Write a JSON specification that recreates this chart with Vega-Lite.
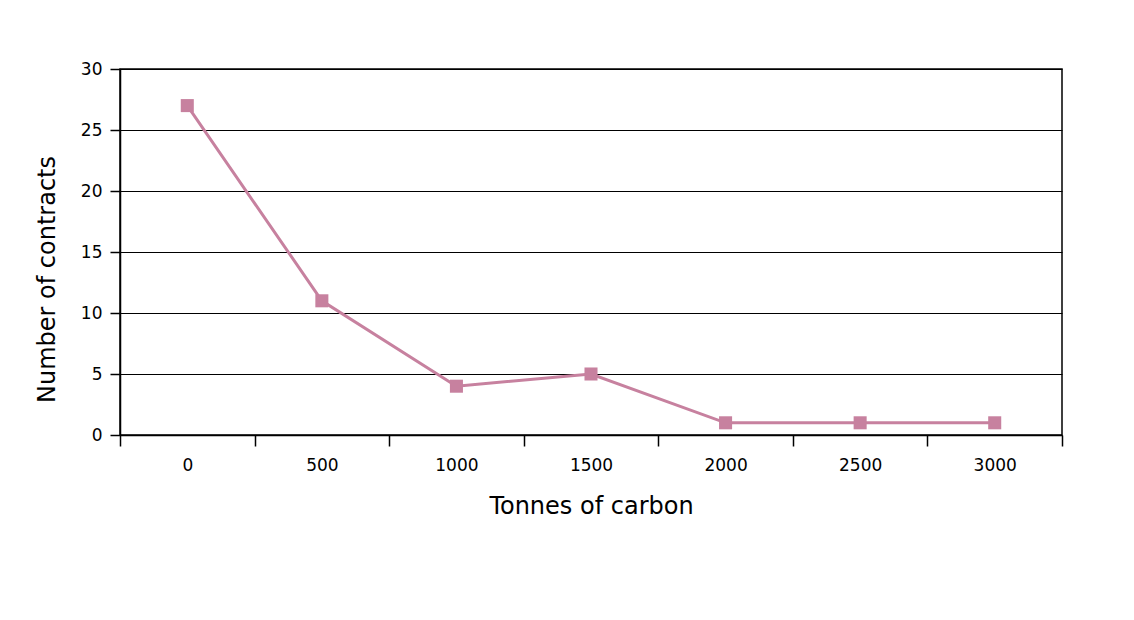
{
  "$schema": "https://vega.github.io/schema/vega-lite/v6.json",
  "autosize": "none",
  "width": 942,
  "height": 366,
  "padding": {"left": 120, "top": 69, "right": 72, "bottom": 185},
  "background": "white",
  "config": {
    "view": {"stroke": "black", "strokeWidth": 1.5},
    "font": "DejaVu Sans",
    "axis": {"labelFont": "DejaVu Sans", "titleFont": "DejaVu Sans", "labelColor": "black", "titleColor": "black", "domainColor": "black", "tickColor": "black", "gridColor": "black"}
  },
  "data": {"values": [
    {"tonnes": 0, "contracts": 27},
    {"tonnes": 500, "contracts": 11},
    {"tonnes": 1000, "contracts": 4},
    {"tonnes": 1500, "contracts": 5},
    {"tonnes": 2000, "contracts": 1},
    {"tonnes": 2500, "contracts": 1},
    {"tonnes": 3000, "contracts": 1}
  ]},
  "resolve": {"axis": {"x": "independent"}},
  "layer": [
    {
      "encoding": {
        "x": {"field": "tonnes", "type": "quantitative", "scale": {"domain": [-250, 3250], "nice": false, "zero": false},
          "axis": {"orient": "bottom", "values": [0, 500, 1000, 1500, 2000, 2500, 3000], "format": "d", "ticks": false, "domain": true, "domainWidth": 1.5, "grid": false, "labelFontSize": 17, "labelPadding": 22, "labelFlush": false, "title": "Tonnes of carbon", "titleFontSize": 24, "titleFontWeight": "normal", "titlePadding": 21}},
        "y": {"field": "contracts", "type": "quantitative", "scale": {"domain": [0, 30], "nice": false},
          "axis": {"values": [0, 5, 10, 15, 20, 25, 30], "tickSize": 10, "tickWidth": 1.5, "domainWidth": 1.5, "grid": true, "gridWidth": 1.2, "gridOpacity": 1, "labelFontSize": 17, "labelPadding": 8, "title": "Number of contracts", "titleFontSize": 24, "titleFontWeight": "normal", "titleX": -73, "titleY": 210, "titleAlign": "center", "titleBaseline": "middle", "titleAngle": -90}}
      },
      "layer": [
        {"mark": {"type": "line", "color": "#C7819F", "strokeWidth": 3}},
        {"mark": {"type": "point", "shape": "square", "filled": true, "opacity": 1, "size": 170, "color": "#C7819F"}}
      ]
    },
    {"mark": {"type": "rule", "color": "black", "strokeWidth": 1.5, "opacity": 0},
      "encoding": {"x": {"field": "tonnes", "type": "quantitative", "scale": {"domain": [-250, 3250], "nice": false, "zero": false}, "axis": {"orient": "bottom", "values": [-250, 250, 750, 1250, 1750, 2250, 2750, 3250], "labels": false, "tickSize": 11, "tickWidth": 1.5, "domain": false, "grid": false, "title": null}}}}
  ]
}
